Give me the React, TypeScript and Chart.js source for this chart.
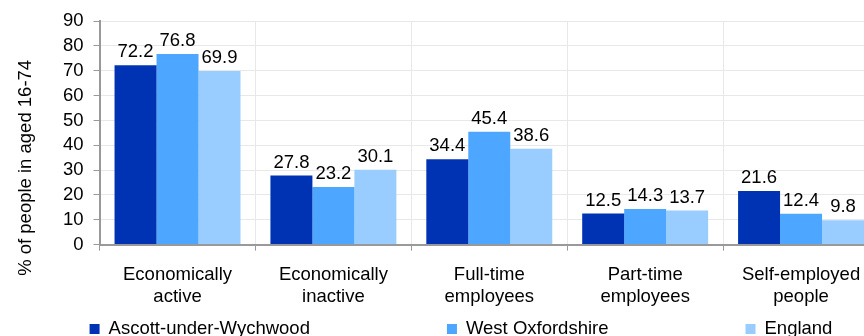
import React, { useEffect, useRef } from "react";
import { Chart, registerables } from "chart.js";

Chart.register(...registerables);

const categories: string[][] = [
  ["Economically", "active"],
  ["Economically", "inactive"],
  ["Full-time", "employees"],
  ["Part-time", "employees"],
  ["Self-employed", "people"],
];
const ascott = [72.2, 27.8, 34.4, 12.5, 21.6];
const westOxon = [76.8, 23.2, 45.4, 14.3, 12.4];
const england = [69.9, 30.1, 38.6, 13.7, 9.8];
const seriesNames = ["Ascott-under-Wychwood", "West Oxfordshire", "England"];
const colors = ["#0033b4", "#4da6ff", "#99ccff"];
const yAxisTitle = "% of people in aged 16-74";

const FONT = "'Liberation Sans', Arial, sans-serif";
const FS = 18.5;

const dataLabels = {
  id: "dataLabels",
  afterDatasetsDraw(chart: any) {
    const ctx = chart.ctx;
    ctx.save();
    ctx.font = `${FS}px ${FONT}`;
    ctx.fillStyle = "#000";
    ctx.textAlign = "center";
    ctx.textBaseline = "alphabetic";
    chart.data.datasets.forEach((ds: any, i: number) => {
      const meta = chart.getDatasetMeta(i);
      meta.data.forEach((el: any, j: number) => {
        ctx.fillText(String(ds.data[j]), el.x, el.y - 8);
      });
    });
    ctx.restore();
  },
};

const sideTitle = {
  id: "sideTitle",
  afterDraw(chart: any) {
    const ctx = chart.ctx;
    const a = chart.chartArea;
    ctx.save();
    ctx.font = `${FS}px ${FONT}`;
    ctx.fillStyle = "#000";
    ctx.textAlign = "center";
    ctx.textBaseline = "alphabetic";
    ctx.translate(31, (a.top + a.bottom) / 2 + 35);
    ctx.rotate(-Math.PI / 2);
    ctx.fillText(yAxisTitle, 0, 0);
    ctx.restore();
  },
};

const bottomLegend = {
  id: "bottomLegend",
  afterDraw(chart: any) {
    const ctx = chart.ctx;
    ctx.save();
    ctx.font = `${FS}px ${FONT}`;
    ctx.textBaseline = "middle";
    ctx.textAlign = "left";
    const gap = 137;
    const box = 10;
    const y = chart.height - 17;
    let x = chart.chartArea.left - 10;
    chart.data.datasets.forEach((ds: any) => {
      ctx.fillStyle = ds.backgroundColor;
      ctx.fillRect(x, y - box / 2, box, box);
      ctx.fillStyle = "#000";
      ctx.fillText(ds.label, x + box + 9, y);
      x += box + 9 + ctx.measureText(ds.label).width + gap;
    });
    ctx.restore();
  },
};

export default function App() {
  const ref = useRef<HTMLCanvasElement>(null);
  useEffect(() => {
    document.body.style.overflow = "hidden";
    const chart = new Chart(ref.current!, {
      type: "bar",
      data: {
        labels: categories,
        datasets: [ascott, westOxon, england].map((d, i) => ({
          label: seriesNames[i],
          data: d,
          backgroundColor: colors[i],
          borderWidth: 0,
          categoryPercentage: 0.808,
          barPercentage: 1,
        })),
      },
      options: {
        animation: false,
        responsive: false,
        maintainAspectRatio: false,
        layout: { padding: { left: 53, right: 21, top: 21, bottom: 25 } },
        plugins: {
          tooltip: { enabled: false },
          legend: { display: false },
        },
        scales: {
          x: {
            grid: {
              color: "#e8e8e8",
              offset: true,
              tickColor: "#999",
              tickLength: 6,
              drawTicks: true,
            },
            border: { color: "#999", width: 2 },
            ticks: {
              color: "#000",
              font: { family: FONT, size: FS },
              maxRotation: 0,
              padding: 13,
            },
          },
          y: {
            min: 0,
            max: 90,
            ticks: {
              stepSize: 10,
              autoSkip: false,
              color: "#000",
              font: { family: FONT, size: FS },
              padding: 10,
            },
            grid: { color: "#e8e8e8", tickColor: "#999", tickLength: 6 },
            border: { color: "#999", width: 2 },
            title: { display: false },
          },
        },
      },
      plugins: [dataLabels, sideTitle, bottomLegend],
    });
    return () => chart.destroy();
  }, []);
  return (
    <div style={{ position: "fixed", left: 0, top: 0, width: 900, height: 346, overflow: "hidden" }}>
      <canvas ref={ref} width={900} height={346} style={{ width: 900, height: 346 }} />
    </div>
  );
}
